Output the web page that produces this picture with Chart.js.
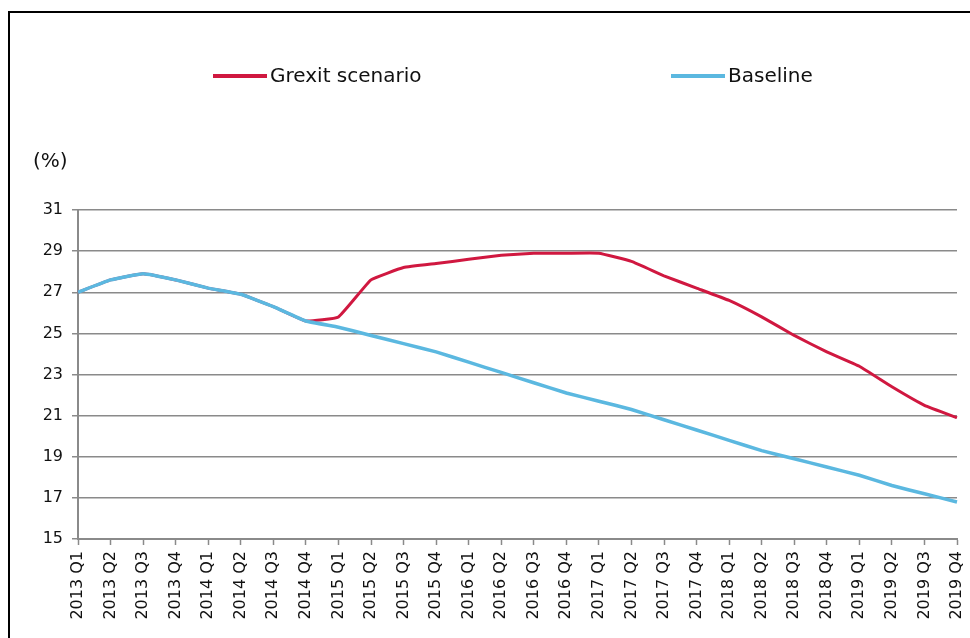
<!DOCTYPE html>
<html>
<head>
<meta charset="utf-8">
<script src="https://cdn.jsdelivr.net/npm/chart.js@4/dist/chart.umd.min.js"></script>
<style>
  html, body { margin: 0; padding: 0; background: #fff; }
  canvas { display: block; }
</style>
</head>
<body>
<canvas id="chart" width="970" height="638"></canvas>
<script>
// Quarterly categories, 2013 Q1 – 2019 Q4
const quarters = [
  '2013 Q1','2013 Q2','2013 Q3','2013 Q4',
  '2014 Q1','2014 Q2','2014 Q3','2014 Q4',
  '2015 Q1','2015 Q2','2015 Q3','2015 Q4',
  '2016 Q1','2016 Q2','2016 Q3','2016 Q4',
  '2017 Q1','2017 Q2','2017 Q3','2017 Q4',
  '2018 Q1','2018 Q2','2018 Q3','2018 Q4',
  '2019 Q1','2019 Q2','2019 Q3','2019 Q4'
];

// Unemployment rate (%) under the two scenarios
const grexitScenario = [
  27.0, 27.6, 27.9, 27.6, 27.2, 26.9, 26.3, 25.6,
  25.8, 27.6, 28.2, 28.4, 28.6, 28.8, 28.9, 28.9,
  28.9, 28.5, 27.8, 27.2, 26.6, 25.8, 24.9, 24.1,
  23.4, 22.4, 21.5, 20.9
];
const baseline = [
  27.0, 27.6, 27.9, 27.6, 27.2, 26.9, 26.3, 25.6,
  25.3, 24.9, 24.5, 24.1, 23.6, 23.1, 22.6, 22.1,
  21.7, 21.3, 20.8, 20.3, 19.8, 19.3, 18.9, 18.5,
  18.1, 17.6, 17.2, 16.8
];

// Value axis range
const yMin = 15;
const yMax = 31;
const yStep = 2;

const RED = '#d01840';
const BLUE = '#5bb8e0';
const AXIS = '#8a8a8a';
const FONT = "'DejaVu Sans', sans-serif";

// White background and the black frame around the figure
const framePlugin = {
  id: 'frame',
  beforeDraw(chart) {
    const ctx = chart.ctx;
    ctx.save();
    ctx.fillStyle = '#fff';
    ctx.fillRect(0, 0, chart.width, chart.height);
    ctx.strokeStyle = '#000';
    ctx.lineWidth = 2;
    ctx.beginPath();
    ctx.moveTo(9, chart.height + 2);
    ctx.lineTo(9, 12);
    ctx.lineTo(chart.width + 2, 12);
    ctx.stroke();
    ctx.restore();
  }
};

// Legend drawn as two free-standing items, plus the "(%)" unit label
const legendPlugin = {
  id: 'freeLegend',
  afterDraw(chart, args, opts) {
    const ctx = chart.ctx;
    ctx.save();
    ctx.font = '20px ' + FONT;
    ctx.textBaseline = 'middle';
    ctx.fillStyle = '#111';
    opts.items.forEach(it => {
      const ds = chart.data.datasets[it.dataset];
      ctx.strokeStyle = ds.borderColor;
      ctx.lineWidth = 4;
      ctx.beginPath();
      ctx.moveTo(it.x, it.y);
      ctx.lineTo(it.x + it.len, it.y);
      ctx.stroke();
      ctx.fillText(ds.label, it.x + it.len + 3, it.y + 1);
    });
    ctx.fillText(opts.unit, opts.unitX, opts.unitY);
    ctx.restore();
  }
};

new Chart(document.getElementById('chart'), {
  type: 'line',
  data: {
    labels: quarters,
    datasets: [
      {
        label: 'Grexit scenario',
        data: grexitScenario,
        borderColor: RED,
        borderWidth: 3,
        pointRadius: 0,
        tension: 0.1,
        fill: false,
        order: 1
      },
      {
        label: 'Baseline',
        data: baseline,
        borderColor: BLUE,
        borderWidth: 3.5,
        pointRadius: 0,
        tension: 0.1,
        fill: false,
        order: 0
      }
    ]
  },
  options: {
    responsive: false,
    animation: false,
    layout: { padding: { top: 210, right: 13, left: 0, bottom: 0 } },
    plugins: {
      legend: { display: false },
      tooltip: { enabled: false },
      freeLegend: {
        items: [
          { dataset: 0, x: 213, y: 76, len: 54 },
          { dataset: 1, x: 671, y: 76, len: 54 }
        ],
        unit: '(%)',
        unitX: 33,
        unitY: 162
      }
    },
    scales: {
      x: {
        offset: false,
        border: { display: true, color: AXIS, width: 2 },
        grid: {
          drawOnChartArea: false,
          drawTicks: true,
          tickLength: 6,
          tickColor: AXIS,
          tickWidth: 1.5
        },
        ticks: {
          autoSkip: false,
          maxRotation: 90,
          minRotation: 90,
          padding: 6,
          color: '#111',
          font: { family: FONT, size: 16 }
        },
        afterFit(scale) {
          scale.height = 99;
          scale.paddingLeft = 0;
          scale.paddingRight = 0;
        }
      },
      y: {
        min: yMin,
        max: yMax,
        border: { display: true, color: AXIS, width: 2 },
        grid: {
          color: AXIS,
          lineWidth: 1.5,
          drawTicks: true,
          tickLength: 6,
          tickColor: AXIS
        },
        ticks: {
          stepSize: yStep,
          padding: 9,
          color: '#111',
          font: { family: FONT, size: 16 }
        },
        afterFit(scale) { scale.width = 78; }
      }
    }
  },
  plugins: [framePlugin, legendPlugin]
});
</script>
</body>
</html>
